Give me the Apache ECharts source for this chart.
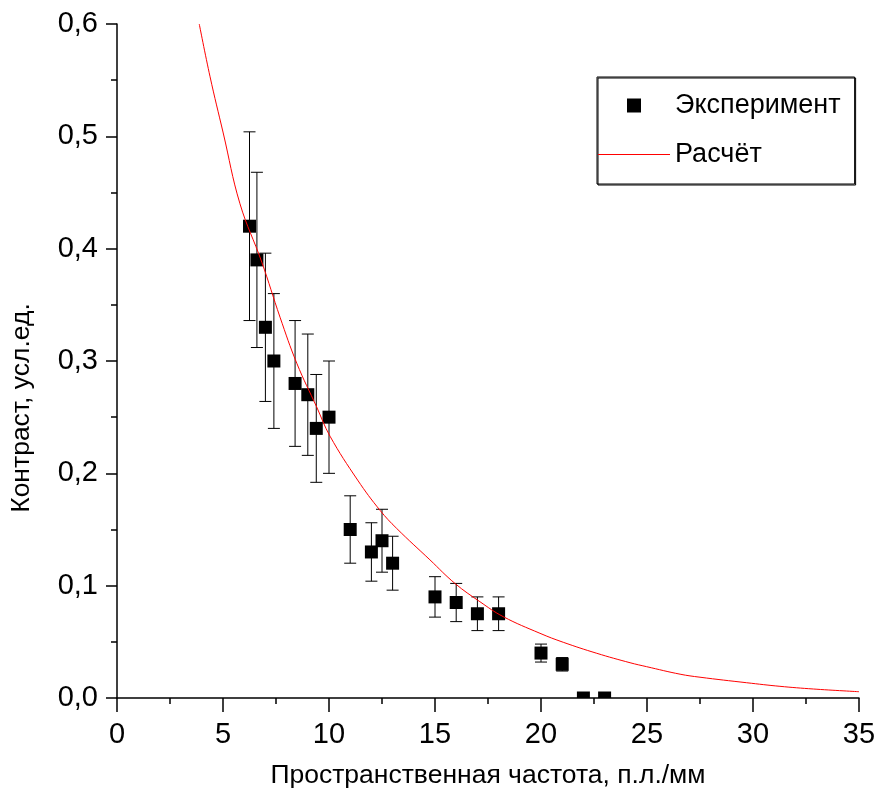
<!DOCTYPE html>
<html>
<head>
<meta charset="utf-8">
<script src="https://cdn.jsdelivr.net/npm/echarts@6/dist/echarts.min.js"></script>
<style>
  html, body { margin: 0; padding: 0; background: #fff; }
  #chart { width: 890px; height: 796px; }
</style>
</head>
<body>
<div id="chart"></div>
<script>
// experiment points: x, value, error
var expX = [6.25, 6.6, 7, 7.4, 8.4, 9, 9.4, 10, 11, 12, 12.5, 13, 15, 16, 17, 18, 20, 21, 22, 23];
var expY = [0.42, 0.39, 0.33, 0.30, 0.28, 0.27, 0.24, 0.25, 0.15, 0.13, 0.14, 0.12, 0.09, 0.085, 0.075, 0.075, 0.04, 0.03, 0, 0];
var expErr = [0.084, 0.078, 0.066, 0.06, 0.056, 0.054, 0.048, 0.05, 0.03, 0.026, 0.028, 0.024, 0.018, 0.017, 0.015, 0.015, 0.008, 0.006, 0, 0];

// calculated curve
var calcX = [3.88, 4.39, 5.01, 5.8, 6.83, 7.69, 8.48, 9.42, 10.05, 11.35, 12.41, 13.19, 14.76, 15.94, 17.12, 18.22, 19.95, 21.05, 22.63, 24.2, 24.98, 26.56, 27.5, 29.7, 31.27, 32.85, 35];
var calcY = [0.6, 0.553, 0.503, 0.44, 0.388, 0.339, 0.298, 0.259, 0.233, 0.194, 0.167, 0.151, 0.123, 0.102, 0.0857, 0.0724, 0.0576, 0.0496, 0.0398, 0.0314, 0.0279, 0.0212, 0.0185, 0.0136, 0.0104, 0.008, 0.0056];

var FONT = '"Liberation Sans", Arial, sans-serif';

var expData = expX.map(function (x, i) { return [x, expY[i], expErr[i]]; });
var calcData = calcX.map(function (x, i) { return [x, calcY[i]]; });

var chart = echarts.init(document.getElementById('chart'));

var option = {
    backgroundColor: '#fff',
    animation: false,
    grid: { left: 117, right: 31, top: 24, bottom: 98, containLabel: false },
    legend: {
        orient: 'vertical',
        left: 597,
        top: 77,
        padding: [15, 14, 16, 1],
        itemWidth: 72,
        itemHeight: 14,
        itemGap: 22,
        borderColor: '#000',
        borderWidth: 1,
        shadowColor: '#000',
        shadowOffsetX: 1,
        shadowOffsetY: 1,
        textStyle: { fontFamily: FONT, fontSize: 27, color: '#000' },
        data: [
            { name: 'Эксперимент', icon: 'path://M0,0L10,0L10,10L0,10Z' },
            { name: 'Расчёт', icon: 'path://M0,0L72,0L72,1L0,1Z' }
        ]
    },
    xAxis: {
        type: 'value',
        min: 0, max: 35, interval: 5,
        name: 'Пространственная частота, п.л./мм',
        nameLocation: 'middle',
        nameGap: 64,
        nameTextStyle: { fontFamily: FONT, fontSize: 26.5, color: '#000' },
        axisLine: { lineStyle: { color: '#000', width: 1.5 } },
        axisTick: { length: 14, lineStyle: { color: '#000', width: 1.5 } },
        minorTick: { show: true, splitNumber: 2, length: 6, lineStyle: { color: '#000', width: 1.5 } },
        splitLine: { show: false },
        axisLabel: { margin: 22, fontFamily: FONT, fontSize: 29, color: '#000' }
    },
    yAxis: {
        type: 'value',
        min: 0, max: 0.6, interval: 0.1,
        name: 'Контраст, усл.ед.',
        nameLocation: 'middle',
        nameGap: 82,
        nameTextStyle: { fontFamily: FONT, fontSize: 26.5, color: '#000', padding: [0, 94, 0, 0] },
        axisLine: { show: true, lineStyle: { color: '#000', width: 1.5 } },
        axisTick: { show: true, length: 11, lineStyle: { color: '#000', width: 1.5 } },
        minorTick: { show: true, splitNumber: 2, length: 6, lineStyle: { color: '#000', width: 1.5 } },
        splitLine: { show: false },
        axisLabel: {
            margin: 19, fontFamily: FONT, fontSize: 29, color: '#000',
            formatter: function (v) { return v.toFixed(1).replace('.', ','); }
        }
    },
    series: [
        {
            name: 'Эксперимент',
            type: 'custom',
            clip: true,
            itemStyle: { color: '#000' },
            encode: { x: 0, y: 1 },
            data: expData,
            renderItem: function (params, api) {
                var x = api.value(0), y = api.value(1), e = api.value(2);
                var c = api.coord([x, y]);
                var hi = api.coord([x, y + e]);
                var lo = api.coord([x, y - e]);
                var cap = 6, half = 6.5;
                var lineStyle = { stroke: '#000', lineWidth: 1 };
                return {
                    type: 'group',
                    children: [
                        { type: 'line', shape: { x1: c[0], y1: hi[1], x2: c[0], y2: lo[1] }, style: lineStyle },
                        { type: 'line', shape: { x1: c[0] - cap, y1: hi[1], x2: c[0] + cap, y2: hi[1] }, style: lineStyle },
                        { type: 'line', shape: { x1: c[0] - cap, y1: lo[1], x2: c[0] + cap, y2: lo[1] }, style: lineStyle },
                        { type: 'rect', shape: { x: c[0] - half, y: c[1] - half, width: half * 2, height: half * 2 }, style: { fill: '#000' } }
                    ]
                };
            }
        },
        {
            name: 'Расчёт',
            type: 'line',
            smooth: 0.4,
            symbol: 'none',
            color: '#ff0000',
            lineStyle: { color: '#ff0000', width: 1 },
            data: calcData,
            z: 3
        }
    ]
};

chart.setOption(option);
</script>
</body>
</html>
